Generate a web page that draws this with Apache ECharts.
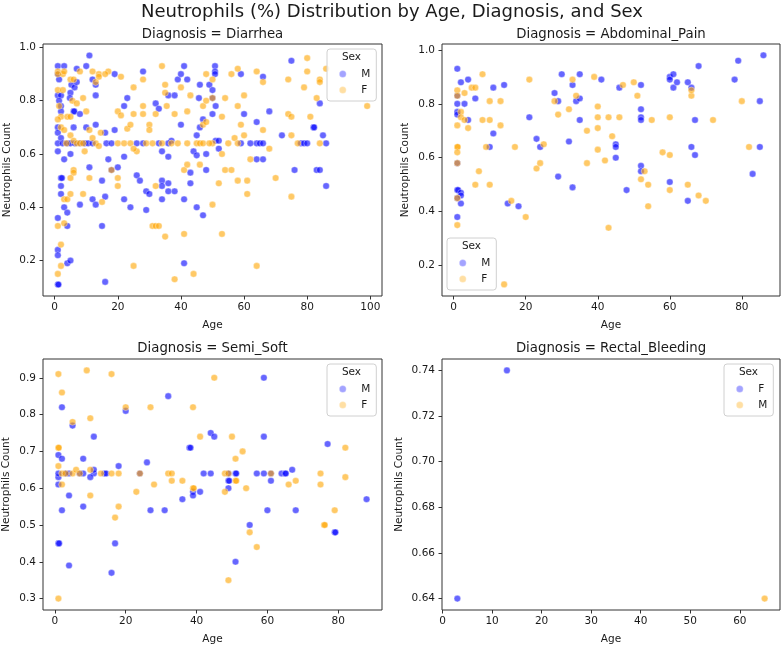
<!DOCTYPE html>
<html>
<head>
<meta charset="utf-8">
<script src="https://cdn.jsdelivr.net/npm/echarts@6/dist/echarts.min.js"></script>
<style>
  html, body { margin: 0; padding: 0; background: #fff; }
  #chart { width: 784px; height: 646px; }
</style>
</head>
<body>
<div id="chart"></div>
<script>
// [age, neutrophils], one array per panel and sex
var diarrheaM = [
  [1,0.93],[3,0.93],[1,0.90],[1.4,0.88],[1,0.82],[2,0.82],[1.4,0.80],[2,0.78],[2,0.76],[1,0.70],[1,0.68],[2,0.66],
  [1,0.64],[2.5,0.64],[4,0.64],[5,0.64],[6.4,0.64],[8,0.64],[9.5,0.64],[10.6,0.64],[12,0.64],[16.4,0.64],[18,0.64],
  [1,0.61],[2,0.51],[2.3,0.51],[2,0.48],[2,0.45],[3,0.40],[4,0.38],[4,0.33],[1,0.36],[1,0.24],[1,0.22],[4,0.19],[5,0.20],[1,0.11],[1.2,0.11],
  [5.3,0.86],[6.3,0.85],[7,0.87],[5,0.83],[4.8,0.81],[6,0.76],[6.2,0.76],[6,0.70],[8,0.75],[7,0.92],[10,0.93],[11,0.97],[12,0.88],
  [13,0.86],[13,0.82],[10,0.70],[13,0.71],[11,0.55],[5,0.60],[3,0.58],[12,0.43],[13,0.41],[8,0.41],[15,0.50],[16,0.44],[15,0.33],
  [16,0.12],[16,0.68],[17,0.58],[18,0.54],[19,0.90],[19,0.69],[20,0.55],[22,0.43],[23,0.81],[22,0.78],[22,0.59],[24,0.40],[26,0.52],
  [27,0.50],[29,0.39],[28,0.91],[29,0.46],[30,0.45],[32,0.79],[33,0.77],[26,0.64],[28,0.64],[33,0.64],[34,0.61],[34,0.50],[34,0.43],
  [34,0.48],[36,0.59],[36,0.49],[36,0.46],[37,0.65],[36,0.82],[38,0.82],[36,0.64],[38,0.46],[39,0.88],[40,0.90],[40,0.71],[41,0.93],
  [41,0.43],[41,0.19],[42,0.88],[43,0.53],[43,0.49],[44,0.61],[45,0.40],[45,0.67],[45,0.595],[46,0.70],[47,0.37],[47,0.73],[46,0.86],
  [45.7,0.81],[48,0.54],[50.8,0.93],[50.8,0.91],[50.8,0.90],[49,0.86],[50,0.84],[50,0.81],[51,0.78],[50,0.75],[51,0.65],[52,0.65],
  [52,0.62],[48,0.60],[59,0.90],[66,0.89],[60,0.75],[64,0.72],[68,0.76],[59,0.64],[62,0.64],[64,0.64],[65,0.64],[66,0.64],[64,0.58],
  [66,0.58],[72,0.67],[75,0.95],[76,0.54],[78,0.64],[79,0.64],[80,0.64],[82,0.70],[82.2,0.70],[84,0.79],[85,0.67],[86,0.64],
  [83,0.54],[84,0.54],[86,0.48]
];
var diarrheaF = [
  [1,0.91],[1,0.90],[2.6,0.90],[3,0.91],[1,0.84],[2.6,0.84],[1.4,0.78],[2,0.74],[1,0.73],[2,0.70],[3,0.69],[5,0.88],[6,0.88],[8,0.91],
  [5.6,0.80],[7,0.79],[9,0.81],[4,0.74],[5,0.74],[10,0.76],[5,0.67],[6,0.65],[3.7,0.64],[7,0.64],[8,0.64],[9,0.64],[9.5,0.61],[11,0.69],
  [12,0.91],[14,0.90],[14,0.89],[13,0.87],[17,0.91],[16,0.90],[13,0.64],[14,0.63],[12,0.66],[14.6,0.68],[6,0.54],[6,0.53],[5,0.51],
  [11,0.51],[3,0.43],[4,0.43],[5,0.45],[9,0.45],[15,0.42],[3,0.34],[1,0.33],[2,0.26],[2,0.18],[1,0.15],[18,0.54],[20,0.76],[21,0.745],
  [20,0.51],[20,0.48],[21,0.89],[20,0.64],[22,0.64],[24,0.64],[23,0.695],[24,0.71],[25,0.85],[25,0.75],[26,0.61],[25,0.62],[25,0.18],
  [28,0.88],[28,0.75],[28,0.78],[30,0.71],[30,0.69],[29,0.64],[31,0.64],[31,0.33],[32,0.33],[33,0.33],[35,0.29],[32,0.75],[32,0.48],
  [34,0.93],[35,0.86],[35,0.83],[35.5,0.78],[38,0.75],[34,0.64],[37,0.64],[39,0.64],[38,0.13],[40,0.85],[41,0.54],[41,0.30],[42,0.76],
  [42,0.56],[42,0.64],[43,0.82],[44,0.15],[45,0.64],[46,0.56],[47,0.71],[48,0.90],[48,0.72],[47,0.78],[48,0.80],
  [50,0.88],[50,0.81],[53,0.74],[54,0.81],[56,0.90],[58,0.92],[60,0.82],[58,0.78],[59,0.71],[60,0.67],[57,0.66],[58,0.64],[55,0.64],
  [50,0.64],[46,0.64],[47,0.64],[49,0.64],[53,0.60],[62,0.58],[66,0.69],[66,0.87],[64,0.91],[68,0.62],[54,0.54],[56,0.54],[58,0.50],
  [61,0.50],[52,0.49],[61,0.45],[50,0.41],[53,0.30],[64,0.18],[70,0.51],[74,0.88],[74,0.75],[75,0.74],[75,0.67],[77,0.64],[75,0.44],
  [79,0.85],[80,0.96],[80,0.91],[84,0.88],[84,0.87],[86,0.92],[83,0.81],[81,0.74],[84,0.64],[99,0.78]
];
var abdominalM = [
  [1,0.93],[2,0.88],[4,0.89],[1,0.83],[1,0.80],[3,0.80],[1,0.77],[1,0.76],[4,0.74],[6,0.82],[11,0.86],[14,0.87],[11,0.69],[10,0.64],
  [1,0.58],[1,0.48],[1.2,0.48],[2,0.47],[2,0.46],[1,0.45],[2,0.43],[1,0.38],[15,0.43],[18,0.42],[21,0.75],[23,0.67],[24,0.64],[28,0.84],
  [29,0.81],[30,0.91],[33,0.87],[34,0.81],[35,0.82],[35,0.91],[35,0.74],[32,0.66],[29,0.53],[33,0.49],
  [41,0.89],[46,0.86],[52,0.87],[52,0.78],[52,0.75],[52,0.74],[45,0.65],[45,0.64],[45,0.60],[52,0.57],[52,0.55],[48,0.48],[60,0.90],
  [60,0.89],[61,0.91],[61,0.86],[62,0.88],[65,0.88],[66,0.86],[68,0.94],[67,0.74],[66,0.64],[67,0.61],[60,0.51],[65,0.44],[79,0.96],
  [78,0.89],[86,0.98],[85,0.81],[85,0.64],[83,0.54]
];
var abdominalF = [
  [8,0.91],[1,0.85],[3,0.84],[5,0.86],[6,0.86],[1,0.83],[1,0.64],[1.1,0.64],[1,0.62],[1,0.58],[1,0.45],[1,0.72],[2,0.77],[2,0.75],[3,0.74],
  [4,0.71],[8,0.74],[10,0.74],[10,0.81],[13,0.81],[13,0.72],[9,0.64],[7,0.55],[6,0.50],[10,0.50],[1,0.35],[16,0.44],[20,0.38],[14,0.13],
  [17,0.64],[21,0.89],[25,0.65],[23,0.56],[24,0.58],[28,0.81],[29,0.76],[32,0.78],[33,0.89],[34,0.83],[37,0.70],[37,0.58],[39,0.90],
  [47,0.87],[50,0.88],[51,0.83],[40,0.79],[40,0.75],[43,0.75],[46,0.75],[40,0.71],[44,0.68],[40,0.63],[42,0.59],[55,0.74],[60,0.75],
  [58,0.62],[60,0.61],[53,0.55],[52,0.52],[54,0.50],[54,0.42],[43,0.34],[60,0.48],[65,0.50],[68,0.46],[70,0.44],[66,0.83],[66,0.85],
  [72,0.74],[80,0.81],[82,0.64]
];
var semiSoftM = [
  [2,0.82],[5,0.77],[11,0.74],[1,0.69],[2,0.68],[8,0.68],[18,0.66],[26,0.67],[1,0.63],[1,0.61],[1,0.64],[3,0.64],[4,0.64],[7,0.64],
  [8,0.64],[11,0.64],[14,0.64],[14.5,0.64],[10,0.63],[11,0.65],[4,0.58],[8,0.55],[2,0.54],[27,0.54],[31,0.54],[36,0.57],[39,0.59],
  [39,0.58],[41,0.59],[1,0.45],[1.2,0.45],[17,0.45],[4,0.39],[16,0.37],[20,0.81],[32,0.85],[38,0.71],[38.3,0.71],[24,0.64],
  [59,0.90],[44,0.75],[45,0.74],[59,0.74],[77,0.72],[42,0.64],[44,0.64],[49,0.64],[51,0.64],[51.2,0.64],[57,0.64],[59,0.64],[61,0.64],
  [64,0.64],[65,0.64],[65.2,0.64],[67,0.65],[49,0.62],[49.2,0.62],[61,0.62],[49,0.60],[88,0.57],[60,0.54],[68,0.54],[55,0.50],
  [79,0.48],[79.2,0.48],[51,0.40]
];
var semiSoftF = [
  [1,0.91],[2,0.86],[9,0.92],[16,0.91],[20,0.82],[27,0.82],[5,0.78],[10,0.79],[1,0.71],[1.1,0.71],[1,0.66],[2,0.64],[3,0.64],[5,0.64],
  [6,0.65],[7,0.64],[2,0.61],[10,0.65],[10,0.58],[13,0.64],[16,0.64],[18,0.64],[17,0.52],[18,0.55],[23,0.59],[28,0.61],[32,0.64],
  [33,0.64],[33,0.62],[36,0.62],[39,0.60],[39.2,0.60],[39,0.82],[41,0.74],[1,0.30],[24,0.64],
  [45,0.90],[50,0.74],[53,0.70],[51,0.68],[48,0.64],[49,0.64],[51,0.62],[51.2,0.62],[54,0.60],[48,0.59],[66,0.61],[68,0.62],[75,0.64],
  [75,0.61],[82,0.71],[82,0.63],[79,0.54],[76,0.50],[76.2,0.50],[55,0.48],[57,0.44],[49,0.35],[61,0.64]
];
var rectalF = [[3,0.64],[13,0.74]];
var rectalM = [[65,0.64]];

var panelTitles = ['Diagnosis = Diarrhea', 'Diagnosis = Abdominal_Pain', 'Diagnosis = Semi_Soft', 'Diagnosis = Rectal_Bleeding'];
var xTicks = [[0,20,40,60,80,100], [0,20,40,60,80], [0,20,40,60,80], [0,10,20,30,40,50,60]];
var yTicks = [[0.2,0.4,0.6,0.8,1.0], [0.2,0.4,0.6,0.8,1.0], [0.3,0.4,0.5,0.6,0.7,0.8,0.9], [0.64,0.66,0.68,0.70,0.72,0.74]];
var xRange = [[-3.7,103.7], [-3.25,90.6], [-3.35,92.35], [-0.1,68.1]];
var yRange = [[0.067,1.013], [0.087,1.022], [0.269,0.951], [0.635,0.745]];
var yDigits = [1, 1, 1, 2];

var BLUE = '#0000ff', ORANGE = '#ffa500';
var FONT = 'DejaVu Sans';
var TXT = '#1a1a1a';

var grids = [
  {left: 43, top: 44, width: 339, height: 252},
  {left: 442, top: 44, width: 338, height: 252},
  {left: 43, top: 359, width: 339, height: 252},
  {left: 442, top: 359, width: 338, height: 251}
];
var yNameGap = [30, 31, 31, 37];

var xAxes = [], yAxes = [];
grids.forEach(function (g, i) {
  g.show = true;
  g.borderColor = '#333';
  g.borderWidth = 1;
  g.containLabel = false;
  xAxes.push({
    type: 'value', gridIndex: i, min: xRange[i][0], max: xRange[i][1],
    name: 'Age', nameLocation: 'middle', nameGap: 24,
    nameTextStyle: {fontFamily: FONT, fontSize: 10.5, color: TXT},
    axisLine: {show: false, onZero: false},
    axisTick: {show: true, inside: false, length: 3.5, customValues: xTicks[i], lineStyle: {color: '#333'}},
    axisLabel: {customValues: xTicks[i], fontFamily: FONT, fontSize: 10.5, color: TXT, margin: 6},
    splitLine: {show: false}
  });
  yAxes.push({
    type: 'value', gridIndex: i, min: yRange[i][0], max: yRange[i][1],
    name: 'Neutrophils Count', nameLocation: 'middle', nameGap: yNameGap[i],
    nameTextStyle: {fontFamily: FONT, fontSize: 10.5, color: TXT},
    axisLine: {show: false, onZero: false},
    axisTick: {show: true, inside: false, length: 3.5, customValues: yTicks[i], lineStyle: {color: '#333'}},
    axisLabel: {
      customValues: yTicks[i], fontFamily: FONT, fontSize: 10.5, color: TXT, margin: 7,
      formatter: (function (d) { return function (v) { return v.toFixed(d); }; })(yDigits[i])
    },
    splitLine: {show: false}
  });
});

function scatter(name, data, idx, color) {
  return {
    name: name, type: 'scatter', xAxisIndex: idx, yAxisIndex: idx,
    data: data, symbolSize: 6.6,
    itemStyle: {color: color, opacity: 0.6, borderColor: '#fff', borderWidth: 0.6},
    emphasis: {disabled: true}
  };
}

var series = [
  scatter('M', diarrheaM, 0, BLUE), scatter('F', diarrheaF, 0, ORANGE),
  scatter('M', abdominalM, 1, BLUE), scatter('F', abdominalF, 1, ORANGE),
  scatter('M', semiSoftM, 2, BLUE), scatter('F', semiSoftF, 2, ORANGE),
  scatter('F', rectalF, 3, BLUE), scatter('M', rectalM, 3, ORANGE)
];

// legend boxes: [left, top, first name, second name]
var legendBoxes = [[327, 49, 'M', 'F'], [447, 238, 'M', 'F'], [327, 364, 'M', 'F'], [724, 364, 'F', 'M']];
var legends = [], titles = [];
legendBoxes.forEach(function (b) {
  legends.push({
    orient: 'vertical', left: b[0], top: b[1],
    padding: [19, 6, 5, 12], itemGap: 4,
    itemWidth: 7, itemHeight: 7, icon: 'circle',
    backgroundColor: 'rgba(255,255,255,0.8)', borderColor: '#d0d0d0', borderWidth: 1, borderRadius: 3,
    selectedMode: false,
    textStyle: {fontFamily: FONT, fontSize: 10.5, color: TXT, lineHeight: 12, padding: [0, 0, 0, 10]},
    data: [
      {name: b[2], itemStyle: {color: 'rgba(0,0,255,0.6)', borderColor: '#fff', borderWidth: 0.5}},
      {name: b[3], itemStyle: {color: 'rgba(255,165,0,0.6)', borderColor: '#fff', borderWidth: 0.5}}
    ]
  });
  titles.push({
    text: 'Sex', left: b[0] + 24.5, top: b[1] + 3, textAlign: 'center', padding: 0,
    textStyle: {fontFamily: FONT, fontSize: 10.5, fontWeight: 'normal', color: TXT}
  });
});

titles.push({
  text: 'Neutrophils (%) Distribution by Age, Diagnosis, and Sex',
  left: 392, top: 3, textAlign: 'center', padding: 0,
  textStyle: {fontFamily: FONT, fontSize: 18, fontWeight: 'normal', color: TXT}
});
var subTop = [28, 28, 342, 342];
grids.forEach(function (g, i) {
  titles.push({
    text: panelTitles[i], left: g.left + g.width / 2, top: subTop[i], textAlign: 'center', padding: 0,
    textStyle: {fontFamily: FONT, fontSize: 13.3, fontWeight: 'normal', color: TXT}
  });
});

var chart = echarts.init(document.getElementById('chart'), null, {renderer: 'canvas'});
chart.setOption({
  animation: false,
  backgroundColor: '#fff',
  title: titles,
  legend: legends,
  grid: grids,
  xAxis: xAxes,
  yAxis: yAxes,
  series: series
});
</script>
</body>
</html>
